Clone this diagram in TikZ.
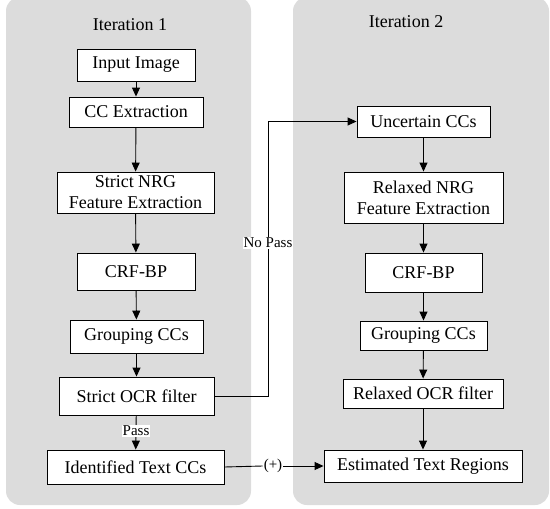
\documentclass[tikz,border=0pt]{standalone}
\usepackage{fontspec}
\setmainfont{Liberation Serif}
\newfontfamily\tnrfont{Liberation Serif}
\usetikzlibrary{arrows.meta}
\definecolor{panelgrey}{HTML}{DCDCDC}
\tikzset{
  box/.style={draw=black, fill=white, line width=0.9pt, inner sep=0pt, align=center,
    font=\tnrfont\fontsize{18}{21}\selectfont},
  arr/.style={draw=black, line width=0.9pt, -{Triangle[length=9pt,width=8pt]}},
  conn/.style={draw=black, line width=0.9pt},
  panel/.style={fill=panelgrey, draw=none, rounded corners=14pt},
  ttl/.style={font=\tnrfont\fontsize{18}{21}\selectfont},
  lbl/.style={fill=white, inner sep=1pt, font=\tnrfont\fontsize{15}{17}\selectfont},
}
\begin{document}
\begin{tikzpicture}[x=1pt,y=-1pt]
\useasboundingbox (0,0) rectangle (550,509);
\fill[panel] (6,-3) rectangle (251,505);
\fill[panel] (293,-3) rectangle (549,505);
\node[ttl] (t1) at (130,25) {Iteration 1};
\node[ttl] (t2) at (406,22) {Iteration 2};
% left column
\node[box, minimum width=118, minimum height=32] (in) at (136,65) {Input Image};
\node[box, minimum width=134, minimum height=30] (cc) at (136,112) {CC Extraction};
\node[box, minimum width=157, minimum height=41] (nrg1) at (135.5,192.5) {Strict NRG\\Feature Extraction};
\node[box, minimum width=118, minimum height=37] (crf1) at (136,271.5) {CRF-BP};
\node[box, minimum width=133, minimum height=33] (grp1) at (136.5,336.5) {Grouping CCs};
\node[box, minimum width=155, minimum height=38] (ocr1) at (136.5,396) {Strict OCR filter};
\node[box, minimum width=177, minimum height=34] (id) at (135.5,467) {Identified Text CCs};
% right column
\node[box, minimum width=133, minimum height=31] (unc) at (423.5,121.5) {Uncertain CCs};
\node[box, minimum width=159, minimum height=51] (nrg2) at (423.5,197.5) {Relaxed NRG\\Feature Extraction};
\node[box, minimum width=117, minimum height=39] (crf2) at (423.5,272.5) {CRF-BP};
\node[box, minimum width=127, minimum height=29] (grp2) at (423.5,335.5) {Grouping CCs};
\node[box, minimum width=160, minimum height=29] (ocr2) at (423,393.5) {Relaxed OCR filter};
\node[box, minimum width=198, minimum height=32] (est) at (423,466) {Estimated Text Regions};
% arrows left
\draw[arr] (in) -- (cc);
\draw[arr] (cc) -- (nrg1);
\draw[arr] (nrg1) -- (crf1);
\draw[arr] (crf1) -- (grp1);
\draw[arr] (grp1) -- (ocr1);
\draw[arr] (ocr1) -- node[lbl, pos=0.45] (pass) {Pass} (id);
% arrows right
\draw[arr] (unc) -- (nrg2);
\draw[arr] (nrg2) -- (crf2);
\draw[arr] (crf2) -- (grp2);
\draw[arr] (grp2) -- (ocr2);
\draw[arr] (ocr2) -- (est);
% no pass
\coordinate (np) at (268,396);
\draw[arr] (ocr1.east) -- (np) |- (unc.west);
\node[lbl] (nplbl) at (268,243) {No Pass};
% plus
\node[inner sep=1pt, font=\tnrfont\fontsize{15}{17}\selectfont] (plus) at (273,466) {(+)};
\draw[conn] (id.east) -- (plus.west);
\draw[arr] (plus.east) -- (est.west);
\end{tikzpicture}
\end{document}
